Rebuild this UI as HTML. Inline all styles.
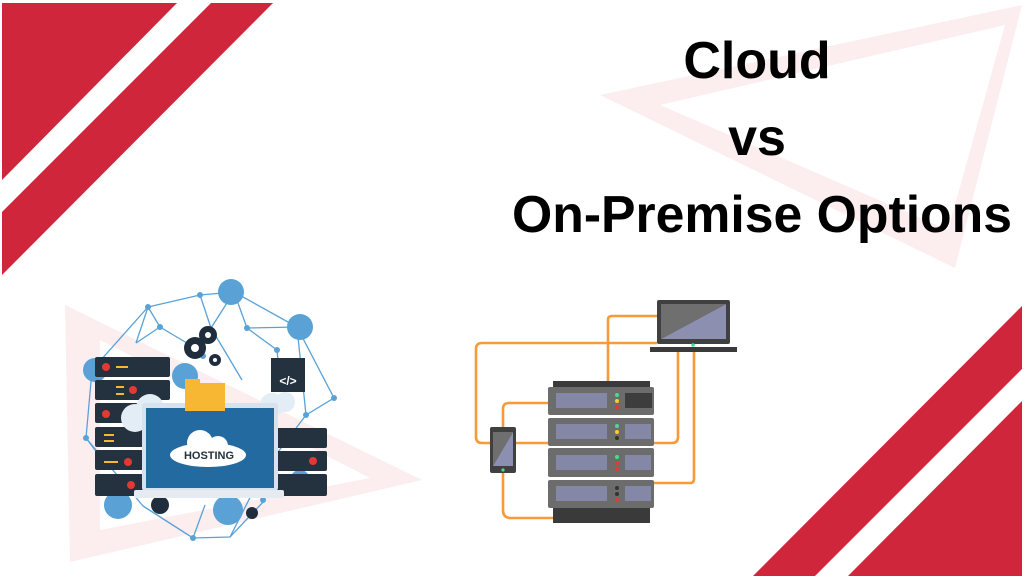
<!DOCTYPE html>
<html><head><meta charset="utf-8"><style>
html,body{margin:0;padding:0;background:#fff}
body{width:1024px;height:576px;overflow:hidden;position:relative;font-family:"Liberation Sans",sans-serif}
svg{position:absolute;left:0;top:0}
</style></head><body>
<svg width="1024" height="576" viewBox="0 0 1024 576">
<polygon points="600,95 1022,5 955,268" fill="#fcedef"/>
<polygon points="660,105 1005,25 948,230" fill="#fff"/>
<polygon points="65,305 422,480 70,562" fill="#fcedef"/>
<polygon points="100,340 370,478 100,530" fill="#fff"/>
<polygon points="2,3 177,3 2,180" fill="#cf263c"/>
<polygon points="211,3 273,3 2,275 2,212" fill="#cf263c"/>
<polygon points="1022,306 1022,369 815,576 753,576" fill="#cf263c"/>
<polygon points="1022,401 1022,576 848,576" fill="#cf263c"/>
<g font-family="Liberation Sans, sans-serif" font-weight="bold" fill="#000" text-anchor="middle" font-size="52">
<text x="757" y="78">Cloud</text>
<text x="757" y="155">vs</text>
<text x="762" y="232" textLength="500" lengthAdjust="spacingAndGlyphs">On-Premise Options</text>
</g>

<g stroke="#5aa2d6" stroke-width="1.3" fill="none">
<polyline points="148,307 200,295 234,292 297,327 334,398 306,415 263,472 265,500 230,537 193,538 143,506 86,438 92,370 148,307"/>
<line x1="148" y1="307" x2="160" y2="327"/><line x1="160" y1="327" x2="136" y2="343"/>
<line x1="160" y1="327" x2="202" y2="352"/><line x1="200" y1="295" x2="211" y2="328"/>
<line x1="234" y1="292" x2="247" y2="328"/><line x1="247" y1="328" x2="297" y2="327"/>
<line x1="247" y1="328" x2="277" y2="350"/><line x1="277" y1="350" x2="280" y2="380"/>
<line x1="234" y1="292" x2="211" y2="328"/><line x1="211" y1="328" x2="242" y2="380"/>
<line x1="297" y1="327" x2="306" y2="415"/><line x1="263" y1="472" x2="230" y2="537"/>
<line x1="143" y1="506" x2="193" y2="538"/><line x1="193" y1="538" x2="205" y2="505"/>
<line x1="86" y1="438" x2="110" y2="470"/><line x1="148" y1="307" x2="136" y2="343"/>
</g>
<g fill="#5aa2d6">
<circle cx="231" cy="292" r="13"/><circle cx="300" cy="327" r="13"/><circle cx="95" cy="370" r="12"/>
<circle cx="185" cy="376" r="13"/><circle cx="118" cy="505" r="14"/><circle cx="228" cy="510" r="15"/>
<circle cx="300" cy="480" r="10"/><circle cx="148" cy="307" r="3"/><circle cx="200" cy="295" r="3"/>
<circle cx="160" cy="327" r="3"/><circle cx="247" cy="328" r="3"/><circle cx="277" cy="350" r="3"/>
<circle cx="334" cy="398" r="3"/><circle cx="306" cy="415" r="3"/><circle cx="86" cy="438" r="3"/>
<circle cx="193" cy="538" r="3"/><circle cx="263" cy="500" r="3"/><circle cx="203" cy="356" r="3"/>
</g>
<g fill="#1f2d3d">
<circle cx="195" cy="348" r="11"/><circle cx="208" cy="335" r="9"/><circle cx="215" cy="360" r="6"/>
<circle cx="160" cy="505" r="9"/><circle cx="252" cy="513" r="6"/>
</g>
<g fill="#fff"><circle cx="195" cy="348" r="4"/><circle cx="208" cy="335" r="3"/><circle cx="215" cy="360" r="2"/></g>
<g>
<rect x="95" y="357" width="75" height="20" rx="2" fill="#24313f"/>
<rect x="95" y="380" width="75" height="20" rx="2" fill="#24313f"/>
<rect x="95" y="403" width="75" height="20" rx="2" fill="#24313f"/>
<rect x="95" y="427" width="75" height="20" rx="2" fill="#24313f"/>
<rect x="95" y="450" width="75" height="20" rx="2" fill="#24313f"/>
<rect x="95" y="474" width="75" height="22" rx="2" fill="#24313f"/>
<circle cx="106" cy="367" r="4" fill="#e23a33"/><circle cx="133" cy="390" r="4" fill="#e23a33"/>
<circle cx="106" cy="414" r="4" fill="#e23a33"/><circle cx="128" cy="462" r="4" fill="#e23a33"/>
<circle cx="131" cy="485" r="4" fill="#e23a33"/>
<g fill="#f5b82e"><rect x="116" y="366" width="12" height="2"/><rect x="116" y="386" width="8" height="2"/><rect x="116" y="393" width="8" height="2"/><rect x="104" y="434" width="10" height="2"/><rect x="104" y="440" width="10" height="2"/><rect x="104" y="461" width="14" height="2"/></g>
</g>
<rect x="275" y="428" width="52" height="20" rx="2" fill="#24313f"/>
<rect x="275" y="451" width="52" height="20" rx="2" fill="#24313f"/>
<rect x="275" y="474" width="52" height="22" rx="2" fill="#24313f"/>
<circle cx="313" cy="461" r="4" fill="#e23a33"/>
<rect x="271" y="358" width="34" height="34" fill="#24313f"/>
<text x="288" y="385" font-size="12" fill="#fff" text-anchor="middle" font-weight="bold">&lt;/&gt;</text>
<g fill="#e3edf5"><circle cx="135" cy="418" r="14"/><circle cx="150" cy="408" r="14"/><circle cx="272" cy="405" r="12"/><circle cx="285" cy="402" r="10"/></g>
<rect x="142" y="403" width="136" height="88" rx="3" fill="#d6e3ee"/>
<rect x="146" y="408" width="128" height="80" fill="#236aa1"/>
<rect x="134" y="490" width="150" height="8" rx="2" fill="#e5ebf0"/>
<rect x="185" y="383" width="40" height="28" fill="#f7b733"/>
<rect x="185" y="379" width="15" height="6" fill="#f7b733"/>
<g fill="#fff"><ellipse cx="208" cy="455" rx="38" ry="12"/><circle cx="200" cy="443" r="13"/><circle cx="218" cy="446" r="10"/></g>
<text x="209" y="459" font-size="11" font-weight="bold" fill="#24313f" text-anchor="middle">HOSTING</text>

<g stroke="#f79a3a" stroke-width="2.6" fill="none" stroke-linejoin="round">
<path d="M657,316 H612 Q608,316 608,320 V381"/>
<path d="M657,343 H482 Q476,343 476,349 V437 Q476,443 482,443 H490"/>
<path d="M548,403 H509 Q503,403 503,409 V427"/>
<path d="M516,443 H548"/>
<path d="M654,443 H672 Q678,443 678,437 V352"/>
<path d="M654,483 H690 Q694,483 694,479 V352"/>
<path d="M503,473 V510 Q503,518 511,518 H553"/>
</g>
<rect x="657" y="300" width="73" height="44" rx="2" fill="#404040"/>
<polygon points="661,339 726,304 726,339" fill="#8c8faf"/>
<polygon points="661,304 726,304 661,339" fill="#6f6f6f"/>
<rect x="650" y="347" width="87" height="5" fill="#3a3a3a"/>
<circle cx="693" cy="345" r="1.8" fill="#3ee08a"/>
<rect x="490" y="427" width="26" height="46" rx="2" fill="#404040"/>
<polygon points="493,466 513,432 513,466" fill="#8c8faf"/>
<polygon points="493,432 513,432 493,466" fill="#6f6f6f"/>
<circle cx="503" cy="470" r="1.6" fill="#3ee08a"/>
<rect x="553" y="381" width="97" height="7" fill="#3a3a3a"/>
<rect x="553" y="505" width="97" height="18" fill="#3a3a3a"/>
<g fill="#6c6c6c">
<rect x="548" y="387" width="106" height="28" rx="2"/>
<rect x="548" y="418" width="106" height="28" rx="2"/>
<rect x="548" y="448" width="106" height="29" rx="2"/>
<rect x="548" y="480" width="106" height="28" rx="2"/>
</g>
<g fill="#8587a6">
<rect x="556" y="393" width="51" height="15"/><rect x="556" y="424" width="51" height="15"/>
<rect x="556" y="455" width="51" height="15"/><rect x="556" y="486" width="51" height="15"/>
</g>
<rect x="625" y="393" width="27" height="15" fill="#3d3d3d"/>
<g fill="#8587a6"><rect x="625" y="424" width="26" height="15"/><rect x="625" y="455" width="26" height="15"/><rect x="625" y="486" width="26" height="15"/></g>
<circle cx="617" cy="395" r="2" fill="#3ee08a"/><circle cx="617" cy="401" r="2" fill="#f5d020"/><circle cx="617" cy="407" r="2" fill="#e23a33"/>
<circle cx="617" cy="426" r="2" fill="#3ee08a"/><circle cx="617" cy="432" r="2" fill="#f5d020"/><circle cx="617" cy="438" r="2" fill="#333"/>
<circle cx="617" cy="457" r="2" fill="#3ee08a"/><circle cx="617" cy="463" r="2" fill="#e23a33"/><circle cx="617" cy="469" r="2" fill="#e23a33"/>
<circle cx="617" cy="488" r="2" fill="#333"/><circle cx="617" cy="494" r="2" fill="#333"/><circle cx="617" cy="500" r="2" fill="#e23a33"/>
</svg>
</body></html>
